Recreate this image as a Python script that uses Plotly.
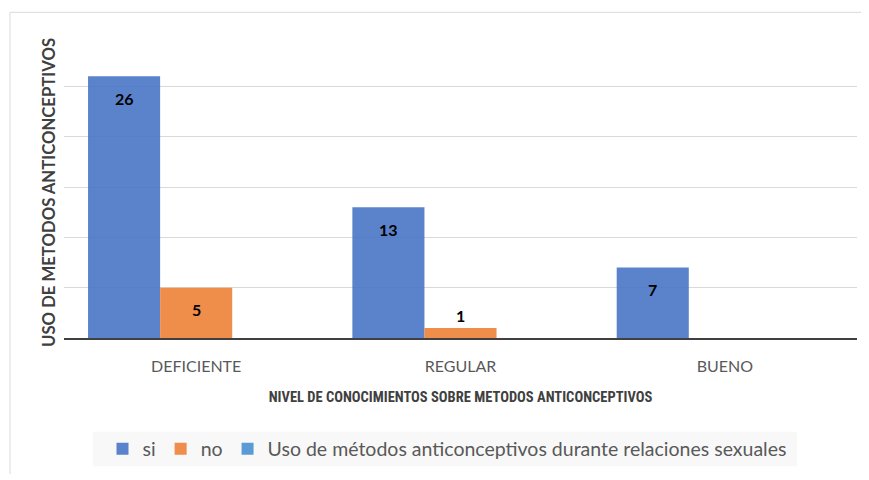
import plotly.graph_objects as go

categories = ["DEFICIENTE", "REGULAR", "BUENO"]
si_vals = [26, 13, 7]
no_vals = [5, 1, 0]
third_name = "Uso de métodos anticonceptivos durante relaciones sexuales"
third_vals = [0, 0, 0]
y_max = 30
x_title = "NIVEL DE CONOCIMIENTOS SOBRE METODOS ANTICONCEPTIVOS"
y_title = "USO DE METODOS ANTICONCEPTIVOS"

FONT = "Lato"
TITLE_FONT = "Roboto Condensed"
OFF = 8  # page body margin
W, H = 869 - OFF, 480 - OFF
L, R, T, B = 64 - OFF, 12, 36 - OFF, 138
plot_h = H - T - B
pw = W - L - R
px_per_unit = plot_h / y_max
bargap = 0.1818
bar_px = pw / len(categories) * (1 - bargap) / 3

def px_to_paper_x(px):  # px in screenshot coordinates
    return (px - OFF - L) / pw
def px_to_paper_y(py):
    return (H - B - (py - OFF)) / plot_h

fig = go.Figure()
fig.add_trace(go.Bar(name="si", x=categories, y=si_vals,
                     marker=dict(color="rgba(68,114,196,0.88)", line=dict(width=0))))
fig.add_trace(go.Bar(name="no", x=categories, y=no_vals,
                     marker=dict(color="rgba(237,125,49,0.88)", line=dict(width=0))))
fig.add_trace(go.Bar(name=third_name, x=categories, y=third_vals,
                     marker=dict(color="#5B9BD5", line=dict(width=0))))

annotations = []
for series, shift in ((si_vals, -bar_px), (no_vals, 0)):
    for c, v in zip(categories, series):
        if not v:
            continue
        inside = v * px_per_unit > 30
        annotations.append(dict(
            x=c, y=v, xref="x", yref="y", text=f"<b>{v}</b>", showarrow=False,
            xshift=shift, yshift=-22 if inside else 12,
            font=dict(family=FONT, size=16, color="#000000")))

annotations.append(dict(
    x=px_to_paper_x(49), y=px_to_paper_y(195), xref="paper", yref="paper",
    text=f"<b>{y_title}</b>", textangle=-90, showarrow=False,
    xanchor="center", yanchor="middle",
    font=dict(family=FONT, size=16.7, color="#404040")))

shapes = [
    dict(type="line", xref="paper", yref="paper",
         x0=px_to_paper_x(10), x1=px_to_paper_x(10), y0=px_to_paper_y(12), y1=px_to_paper_y(480),
         line=dict(color="#d9d9d9", width=1)),
    dict(type="line", xref="paper", yref="paper",
         x0=px_to_paper_x(10), x1=px_to_paper_x(869), y0=px_to_paper_y(12), y1=px_to_paper_y(12),
         line=dict(color="#d9d9d9", width=1)),
    dict(type="rect", xref="paper", yref="paper", layer="below",
         x0=px_to_paper_x(93), x1=px_to_paper_x(797), y0=px_to_paper_y(437), y1=px_to_paper_y(472),
         fillcolor="#f8f8f8", line=dict(width=0)),
]

fig.update_layout(
    width=W, height=H,
    margin=dict(l=L, r=R, t=T, b=B),
    paper_bgcolor="white", plot_bgcolor="white",
    barmode="group", bargap=bargap, bargroupgap=0,
    font=dict(family=FONT, color="#595959"),
    showlegend=True,
    legend=dict(orientation="h", x=px_to_paper_x(447), xanchor="center",
                y=px_to_paper_y(454.5), yanchor="middle",
                bgcolor="rgba(0,0,0,0)", font=dict(family=FONT, size=19.5, color="#595959"),
                itemwidth=30, traceorder="normal"),
    xaxis=dict(showline=True, linecolor="#404040", linewidth=2, ticks="",
               ticklabelstandoff=13,
               tickfont=dict(family=FONT, size=16, color="#595959"),
               title=dict(text=f"<b>{x_title}</b>",
                          font=dict(family=TITLE_FONT, size=14.5, color="#404040"), standoff=18)),
    yaxis=dict(range=[0, y_max], dtick=5, showticklabels=False, showgrid=True,
               gridcolor="#d9d9d9", gridwidth=1, zeroline=False, showline=False,
               title=dict(text="")),
    annotations=annotations,
    shapes=shapes,
)

fig.write_html("out.html")
